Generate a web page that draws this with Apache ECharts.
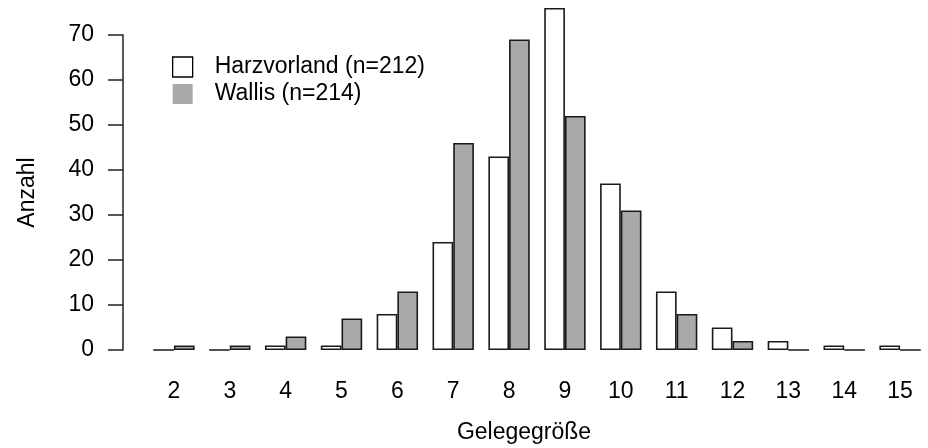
<!DOCTYPE html>
<html>
<head>
<meta charset="utf-8">
<script src="https://cdn.jsdelivr.net/npm/echarts@6/dist/echarts.min.js"></script>
<style>
html,body{margin:0;padding:0;background:#fff;}
#chart{width:928px;height:448px;}
</style>
</head>
<body>
<div id="chart"></div>
<script>
var categories = ['2','3','4','5','6','7','8','9','10','11','12','13','14','15'];
var harzvorland = [0,0,1,1,8,24,43,76,37,13,5,2,1,1];
var wallis = [1,1,3,7,13,46,69,52,31,8,2,0,0,0];
var seriesNames = ['Harzvorland (n=212)','Wallis (n=214)'];
var yTicks = [0,10,20,30,40,50,60,70];

var FONT = 'Liberation Sans, Arial, Helvetica, sans-serif';
var FS = 23;
var chart = echarts.init(document.getElementById('chart'), null, {renderer:'canvas'});
chart.setOption({
  animation:false,
  backgroundColor:'#ffffff',
  textStyle:{fontFamily:FONT},
  grid:{left:146, right:0, top:35, bottom:98},
  legend:{
    orient:'vertical', left:172, top:55.5, padding:0, itemWidth:20, itemHeight:20, itemGap:4,
    icon:'rect',
    textStyle:{fontFamily:FONT, fontSize:FS, color:'#000', padding:[0,0,0,17]},
    data:[
      {name:seriesNames[0], itemStyle:{color:'#ffffff', borderColor:'#000', borderWidth:1.3}},
      {name:seriesNames[1], itemStyle:{color:'#a9a9a9', borderWidth:0}}
    ]
  },
  xAxis:{
    type:'category', data:categories,
    axisLine:{show:false}, axisTick:{show:false},
    axisLabel:{fontFamily:FONT, fontSize:FS, color:'#000', margin:30}
  },
  yAxis:{
    type:'value', min:yTicks[0], max:yTicks[yTicks.length-1], interval:10,
    offset:23,
    splitLine:{show:false},
    axisLine:{show:true, lineStyle:{color:'#222', width:1.5}},
    axisTick:{show:true, length:15, lineStyle:{color:'#222', width:1.5}},
    axisLabel:{fontFamily:FONT, fontSize:FS, color:'#000', margin:29},
    name:'Anzahl', nameLocation:'middle', nameGap:84, nameRotate:90,
    nameTextStyle:{fontFamily:FONT, fontSize:FS, color:'#000'}
  },
  graphic:[{
    type:'text', left:'center', x:0, top:421,
    style:{text:'Gelegegröße', fontFamily:FONT, fontSize:FS, fill:'#000'}
  }],
  series:[
    {name:seriesNames[0], type:'bar', data:harzvorland, barWidth:20.7, barGap:'0%', clip:false,
     itemStyle:{color:'#ffffff', borderColor:'#1a1a1a', borderWidth:1.6}},
    {name:seriesNames[1], type:'bar', data:wallis, barWidth:20.7, barGap:'0%', clip:false,
     itemStyle:{color:'#a9a9a9', borderColor:'#1a1a1a', borderWidth:1.6}}
  ]
});
// position x-axis title: centered at x = 524
var g = chart.getOption().graphic;
chart.setOption({graphic:[{type:'text', left:null, x:524, top:421,
  style:{text:'Gelegegröße', fontFamily:FONT, fontSize:FS, fill:'#000', textAlign:'center'}}]}, {replaceMerge:['graphic']});
</script>
</body>
</html>
